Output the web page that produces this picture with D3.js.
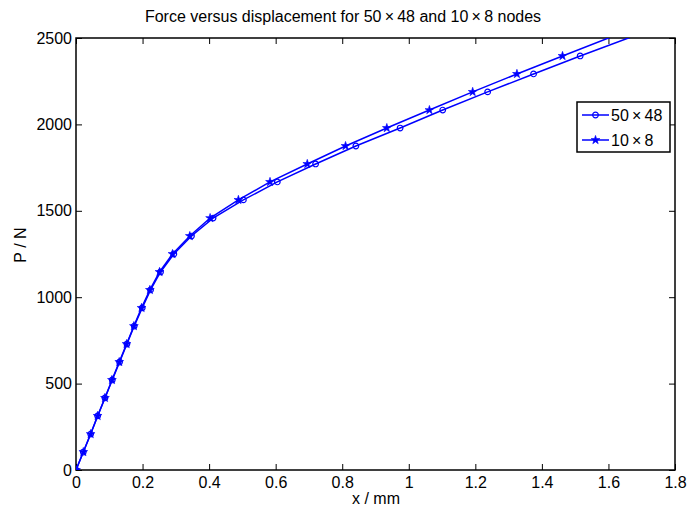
<!DOCTYPE html>
<html>
<head>
<meta charset="utf-8">
<script src="https://cdn.jsdelivr.net/npm/d3@7"></script>
<style>
  body { margin: 0; background: #fff; }
  text { font-family: "Liberation Sans", Arial, sans-serif; fill: #000; }
</style>
</head>
<body>
<div id="chart"></div>
<script>
// load steps (N) shared by both runs
const loads = [0, 104, 208, 313, 417, 521, 625, 729, 833, 938, 1042, 1146, 1250,
               1354, 1458, 1563, 1667, 1771, 1875, 1979, 2083, 2188, 2292, 2396, 2500, 2604];
// displacement (mm) for the fine mesh 50 x 48
const dispFine = [0, 0.022, 0.044, 0.065, 0.087, 0.109, 0.131, 0.153, 0.175, 0.199, 0.224, 0.254, 0.294,
                  0.347, 0.412, 0.503, 0.605, 0.720, 0.841, 0.974, 1.102, 1.237, 1.375, 1.515, 1.660, 1.805];
// displacement (mm) for the coarse mesh 10 x 8
const dispCoarse = [0, 0.022, 0.044, 0.065, 0.087, 0.108, 0.130, 0.152, 0.174, 0.197, 0.222, 0.251, 0.290,
                    0.342, 0.403, 0.488, 0.583, 0.695, 0.810, 0.934, 1.062, 1.192, 1.325, 1.462, 1.600, 1.738];
const seriesNames = ["50\u2009\u00d7\u200948", "10\u2009\u00d7\u20098"];
const xTicks = [0, 0.2, 0.4, 0.6, 0.8, 1, 1.2, 1.4, 1.6, 1.8];
const yTicks = [0, 500, 1000, 1500, 2000, 2500];

const W = 688, H = 511;
const margin = {top: 38, right: 13, bottom: 41, left: 76};
const width = W - margin.left - margin.right;
const height = H - margin.top - margin.bottom;
const blue = "#0000ff";

const svg = d3.select("#chart").append("svg")
    .attr("width", W)
    .attr("height", H);

const g = svg.append("g")
    .attr("transform", `translate(${margin.left},${margin.top})`);

const x = d3.scaleLinear().domain([0, 1.8]).range([0, width]);
const y = d3.scaleLinear().domain([0, 2500]).range([height, 0]);

svg.append("defs").append("clipPath").attr("id", "clip")
    .append("rect").attr("width", width).attr("height", height);

// axes: labelled bottom / left, mirrored ticks on top / right
const fmtX = d => d === 0 || d === 1 ? d3.format("d")(d) : d3.format(".1f")(d);
g.append("g").attr("class", "axis")
    .attr("transform", `translate(0,${height})`)
    .call(d3.axisBottom(x).tickValues(xTicks).tickSizeInner(-6).tickSizeOuter(0).tickPadding(7).tickFormat(fmtX));
g.append("g").attr("class", "axis")
    .call(d3.axisTop(x).tickValues(xTicks).tickSizeInner(-6).tickSizeOuter(0).tickFormat(""));
g.append("g").attr("class", "axis")
    .call(d3.axisLeft(y).tickValues(yTicks).tickSizeInner(-6).tickSizeOuter(0).tickPadding(4).tickFormat(d3.format("d")));
g.append("g").attr("class", "axis")
    .attr("transform", `translate(${width},0)`)
    .call(d3.axisRight(y).tickValues(yTicks).tickSizeInner(-6).tickSizeOuter(0).tickFormat(""));

g.selectAll(".axis path").remove();
g.selectAll(".axis line").attr("stroke", "#000").attr("stroke-width", 1);
g.selectAll(".axis text").style("font-size", "16px").attr("fill", "#000");

g.append("rect")
    .attr("width", width).attr("height", height)
    .attr("fill", "none").attr("stroke", "#000").attr("stroke-width", 1.5);

// series
const star = d3.symbol().type(d3.symbolStar).size(24);
const series = [
    {name: seriesNames[0], xs: dispFine, marker: "circle"},
    {name: seriesNames[1], xs: dispCoarse, marker: "star"}
];

const line = d3.line().x(d => x(d[0])).y(d => y(d[1]));
const plot = g.append("g").attr("clip-path", "url(#clip)");

function drawMarker(sel, type) {
    if (type === "circle") {
        sel.append("circle").attr("r", 2.8)
            .attr("fill", "none").attr("stroke", blue).attr("stroke-width", 1.2);
    } else {
        sel.append("path").attr("d", star)
            .attr("fill", blue).attr("stroke", blue).attr("stroke-width", 0.6);
    }
}

series.forEach(s => {
    const pts = s.xs.map((v, i) => [v, loads[i]]);
    plot.append("path")
        .datum(pts)
        .attr("d", line)
        .attr("fill", "none")
        .attr("stroke", blue)
        .attr("stroke-width", 1.5);
    plot.selectAll(null)
        .data(pts.filter(p => p[1] < 2500))
        .enter().append("g")
        .attr("transform", d => `translate(${x(d[0])},${y(d[1])})`)
        .each(function() { drawMarker(d3.select(this), s.marker); });
});

// legend
const leg = svg.append("g").attr("transform", "translate(577,102)");
leg.append("rect").attr("width", 93).attr("height", 50)
    .attr("fill", "#fff").attr("stroke", "#000").attr("stroke-width", 1.5);
series.forEach((s, i) => {
    const ly = 13 + i * 25;
    leg.append("line").attr("x1", 5).attr("x2", 32).attr("y1", ly).attr("y2", ly)
        .attr("stroke", blue).attr("stroke-width", 1.5);
    drawMarker(leg.append("g").attr("transform", `translate(18.5,${ly})`), s.marker);
    leg.append("text").attr("x", 34).attr("y", ly + 6)
        .style("font-size", "16px").text(s.name);
});

// title and axis labels
svg.append("text")
    .attr("x", 343).attr("y", 22)
    .attr("text-anchor", "middle")
    .style("font-size", "16px")
    .text("Force versus displacement for 50\u2009\u00d7\u200948 and 10\u2009\u00d7\u20098 nodes");

svg.append("text")
    .attr("x", 376).attr("y", 504)
    .attr("text-anchor", "middle")
    .style("font-size", "16px")
    .text("x / mm");

svg.append("text")
    .attr("transform", "translate(26,245) rotate(-90)")
    .attr("text-anchor", "middle")
    .style("font-size", "16px")
    .text("P / N");
</script>
</body>
</html>
